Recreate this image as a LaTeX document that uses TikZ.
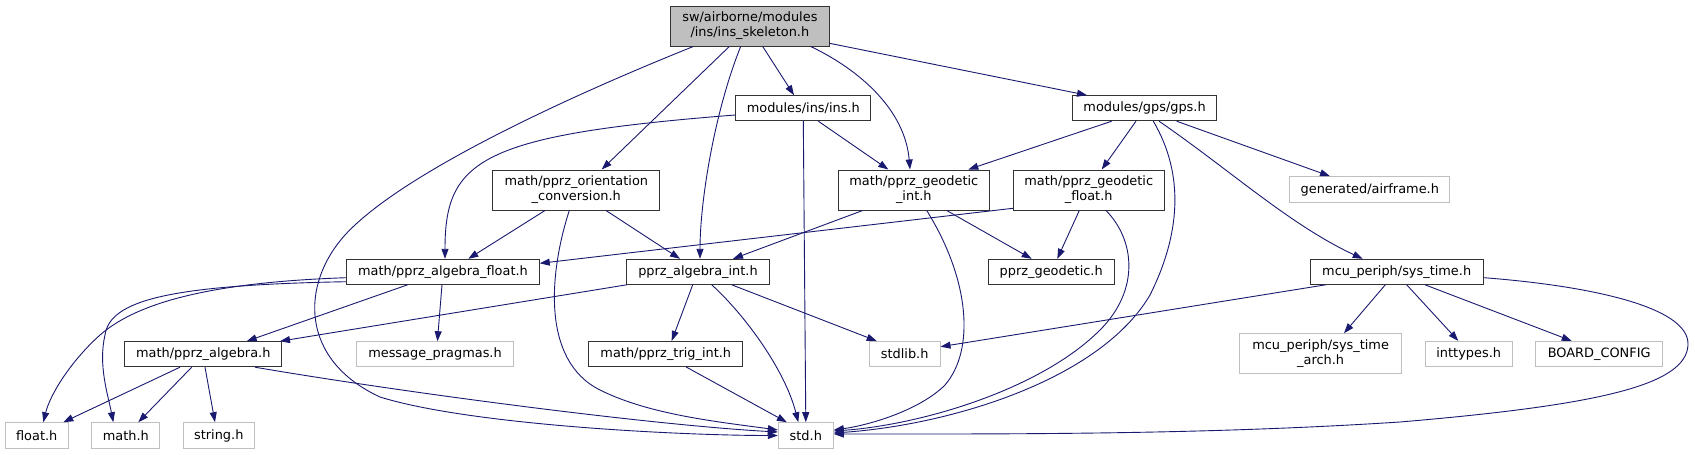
\documentclass[tikz,border=0pt]{standalone}
\usepackage{fontspec}
\usetikzlibrary{arrows.meta}
\newfontfamily\dgfont{DejaVu Sans}
\definecolor{edgeblue}{HTML}{191970}
\definecolor{extgray}{HTML}{BFBFBF}
\definecolor{rootgray}{HTML}{BFBFBF}
\tikzset{
  base/.style={rectangle, inner sep=0pt, align=center, line width=1pt, fill=white,
    font=\dgfont\fontsize{12.9}{14.8}\selectfont},
  doc/.style={base, draw=black!80},
  ext/.style={base, draw=extgray},
  root/.style={base, draw=black!80, fill=rootgray},
  one/.style={minimum height=25pt},
  two/.style={minimum height=40pt},
  edge/.style={draw=edgeblue, line width=0.9pt, -{Triangle[length=10pt,width=7pt]}}
}
\begin{document}
\begin{tikzpicture}[x=1pt,y=-1pt]
\useasboundingbox (0,0) rectangle (1695,455);
\fill[white] (0,0) rectangle (1695,455);
% nodes
\node[root,two,minimum width=158.3pt] (skel) at (749.9,26) {sw/airborne/modules\\/ins/ins\_skeleton.h};
\node[doc,one,minimum width=135.3pt] (insh) at (803.3,108.2) {modules/ins/ins.h};
\node[doc,one,minimum width=144pt] (gps) at (1144.6,108.2) {modules/gps/gps.h};
\node[doc,two,minimum width=167.3pt] (orient) at (576.3,190) {math/pprz\_orientation\\\_conversion.h};
\node[doc,two,minimum width=151pt] (geoint) at (913.8,190) {math/pprz\_geodetic\\\_int.h};
\node[doc,two,minimum width=150.7pt] (geofloat) at (1088.7,190) {math/pprz\_geodetic\\\_float.h};
\node[ext,minimum height=26pt,minimum width=160pt] (airframe) at (1369.8,189.7) {generated/airframe.h};
\node[doc,one,minimum width=192.5pt] (algfloat) at (443,271.8) {math/pprz\_algebra\_float.h};
\node[doc,one,minimum width=142.6pt] (algint) at (698,271.8) {pprz\_algebra\_int.h};
\node[doc,one,minimum width=125.7pt] (pgeod) at (1051.2,271.8) {pprz\_geodetic.h};
\node[doc,one,minimum width=173.3pt] (systime) at (1396.7,271.8) {mcu\_periph/sys\_time.h};
\node[doc,one,minimum width=156.7pt] (palg) at (203.3,354.2) {math/pprz\_algebra.h};
\node[ext,one,minimum width=157.3pt] (msgp) at (435,354.2) {message\_pragmas.h};
\node[doc,one,minimum width=153.7pt] (trig) at (665.8,353.9) {math/pprz\_trig\_int.h};
\node[ext,one,minimum width=70.7pt] (stdlib) at (904.7,354) {stdlib.h};
\node[ext,two,minimum width=162pt] (arch) at (1320.6,353.7) {mcu\_periph/sys\_time\\\_arch.h};
\node[ext,one,minimum width=87.3pt] (inttypes) at (1468.7,353.9) {inttypes.h};
\node[ext,one,minimum width=127pt] (board) at (1599.2,353.9) {BOARD\_CONFIG};
\node[ext,minimum height=25.6pt,minimum width=63.3pt] (floath) at (36.7,435.5) {float.h};
\node[ext,minimum height=25.6pt,minimum width=68.3pt] (mathh) at (125.8,435.5) {math.h};
\node[ext,minimum height=25.6pt,minimum width=71pt] (stringh) at (218.8,435.5) {string.h};
\node[ext,minimum height=25.6pt,minimum width=55pt] (stdh) at (805.8,435.5) {std.h};
% edges from ins_skeleton
\draw[edge] ([xshift=-56.6pt]skel.south) .. controls (560,100) and (400,175) .. (345,235) .. controls (300,285) and (300,360) .. (380,397) .. controls (470,425) and (680,435.5) .. (stdh.west);
\draw[edge] ([xshift=-20.6pt]skel.south) -- ([xshift=25.4pt]orient.north);
\draw[edge] ([xshift=-9.2pt]skel.south) .. controls (715,110) and (700,200) .. ([xshift=2pt]algint.north);
\draw[edge] ([xshift=12.8pt]skel.south) -- ([xshift=-9.3pt]insh.north);
\draw[edge] ([xshift=60.8pt]skel.south) .. controls (860,70) and (905,110) .. ([xshift=-3.8pt]geoint.north);
\draw[edge] ([yshift=-17.3pt]skel.east) -- ([xshift=-57.6pt]gps.north);
% ins.h
\draw[edge] ([yshift=-6.8pt]insh.west) .. controls (480,135) and (445,160) .. ([xshift=2pt]algfloat.north);
\draw[edge] ([xshift=15pt]insh.south) -- ([xshift=-25.5pt]geoint.north);
\draw[edge] (insh.south) -- (stdh.north);
% gps.h
\draw[edge] ([xshift=-32.9pt]gps.south) -- ([xshift=54.5pt]geoint.north);
\draw[edge] ([xshift=-8.6pt]gps.south) -- ([xshift=13pt]geofloat.north);
\draw[edge] ([xshift=8.7pt]gps.south) .. controls (1185,175) and (1180,235) .. (1150,295) .. controls (1100,380) and (950,425) .. ([yshift=2.5pt]stdh.east);
\draw[edge] ([xshift=32pt]gps.south) -- ([xshift=-39.8pt]airframe.north);
\draw[edge] ([xshift=14.4pt]gps.south) .. controls (1230,170) and (1290,225) .. ([xshift=-34pt]systime.north);
% orientation
\draw[edge] ([xshift=-31.3pt]orient.south) -- ([xshift=25.3pt]algfloat.north);
\draw[edge] ([xshift=29.7pt]orient.south) -- ([xshift=-18pt]algint.north);
\draw[edge] ([xshift=-7pt]orient.south) .. controls (550,270) and (540,360) .. (600,390) .. controls (650,415) and (720,422) .. ([yshift=5.5pt]stdh.west);
% geodetic int
\draw[edge] ([xshift=-51.1pt]geoint.south) -- ([xshift=35pt]algint.north);
\draw[edge] ([xshift=32.9pt]geoint.south) -- ([xshift=-19.5pt]pgeod.north);
\draw[edge] ([xshift=12.9pt]geoint.south) .. controls (970,280) and (975,350) .. (945,385) .. controls (920,410) and (870,425) .. ([yshift=5.5pt]stdh.east);
% geodetic float
\draw[edge] ([yshift=-18.3pt]geofloat.west) -- ([yshift=8.5pt]algfloat.east);
\draw[edge] ([xshift=-9.4pt]geofloat.south) -- ([xshift=6.1pt]pgeod.north);
\draw[edge] ([xshift=17.3pt]geofloat.south) .. controls (1135,240) and (1140,290) .. (1100,330) .. controls (1040,390) and (920,425) .. ([yshift=4.5pt]stdh.east);
% algebra float
\draw[edge] ([xshift=-35.4pt]algfloat.south) -- ([xshift=43.4pt]palg.north);
\draw[edge] ([xshift=-1pt]algfloat.south) -- ([xshift=2.4pt]msgp.north);
\draw[edge] ([yshift=-5.9pt]algfloat.west) .. controls (220,282) and (140,300) .. (100,335) .. controls (70,362) and (50,395) .. ([xshift=6.6pt]floath.north);
\draw[edge] ([yshift=-9.9pt]algfloat.west) .. controls (170,285) and (110,300) .. (105,335) .. controls (98,365) and (108,395) .. ([xshift=-12.5pt]mathh.north);
% algebra int
\draw[edge] ([xshift=-71.3pt]algint.south) -- ([xshift=76.7pt]palg.north);
\draw[edge] ([xshift=-5.3pt]algint.south) -- ([xshift=5.9pt]trig.north);
\draw[edge] ([xshift=33.7pt]algint.south) -- ([xshift=-28pt]stdlib.north);
\draw[edge] ([xshift=13.7pt]algint.south) .. controls (745,315) and (785,370) .. ([xshift=-7.5pt]stdh.north);
% pprz_algebra
\draw[edge] ([xshift=-23.3pt]palg.south) -- ([xshift=26.6pt]floath.north);
\draw[edge] ([xshift=-11.6pt]palg.south) -- ([xshift=12.5pt]mathh.north);
\draw[edge] ([xshift=1.7pt]palg.south) -- ([xshift=-3.8pt]stringh.north);
\draw[edge] ([xshift=51.7pt]palg.south) .. controls (400,392) and (650,425) .. ([yshift=3.5pt]stdh.west);
% trig
\draw[edge] ([xshift=20.2pt]trig.south) -- ([xshift=-19pt]stdh.north);
% sys_time
\draw[edge] ([xshift=-71pt]systime.south) -- ([yshift=7.3pt]stdlib.east);
\draw[edge] ([xshift=-11.4pt]systime.south) -- ([xshift=23.4pt]arch.north);
\draw[edge] ([xshift=10pt]systime.south) -- ([xshift=-10.4pt]inttypes.north);
\draw[edge] ([xshift=28.3pt]systime.south) -- ([xshift=-27.5pt]board.north);
\draw[edge] ([yshift=-5.9pt]systime.east) .. controls (1580,285) and (1690,305) .. (1688,345) .. controls (1686,385) and (1600,405) .. (1400,422) .. controls (1200,435) and (1000,434) .. ([yshift=1.5pt]stdh.east);
\end{tikzpicture}
\end{document}
